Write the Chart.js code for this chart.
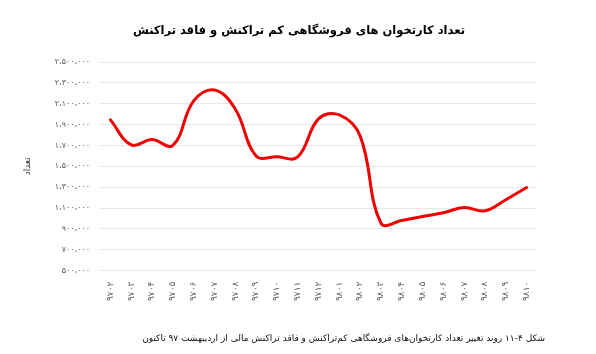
<!DOCTYPE html>
<html>
<head>
<meta charset="utf-8">
<script src="https://cdn.jsdelivr.net/npm/chart.js@4.4.0/dist/chart.umd.min.js"></script>
<style>
  html, body { margin: 0; padding: 0; background: #fff; }
  #wrap { position: relative; width: 596px; height: 354px; }
  #ttl { position: absolute; left: 140px; width: 325px; top: 22px; text-align: center;
         font: bold 11.5px 'DejaVu Sans'; color: #000; white-space: nowrap; line-height: 16px; }
  #cap { position: absolute; right: 51px; top: 331px; text-align: right;
         font: 9px 'DejaVu Sans'; color: #111; white-space: nowrap; line-height: 14px; }
</style>
</head>
<body>
<div id="wrap">
  <canvas id="mycanvas" dir="rtl" width="596" height="354"></canvas>
  <div id="ttl" dir="rtl"></div>
  <div id="cap" dir="rtl"></div>
</div>
<script>
// months (yymm), Persian calendar
var months = ['9702','9703','9704','9705','9706','9707','9708','9709','9710','9711','9712',
              '9801','9802','9803','9804','9805','9806','9807','9808','9809','9810'];
var cards = [1945000, 1706000, 1756000, 1700000, 2127000, 2232000, 2050000, 1600000, 1591000, 1590000,
             1955000, 1993000, 1792000, 955000, 980000, 1020000, 1055000, 1106000, 1074000, 1180000, 1297000];
var yMin = 500000, yMax = 2500000, yStep = 200000;

var chartTitle = 'تعداد کارتخوان های فروشگاهی کم تراکنش و فاقد تراکنش';
var yTitle = 'تعداد';
var caption = 'شکل ۴-۱۱ روند تغییر تعداد کارتخوان‌های فروشگاهی کم‌تراکنش و فاقد تراکنش مالی از اردیبهشت ۹۷ تاکنون';

document.getElementById('ttl').textContent = chartTitle;
document.getElementById('cap').textContent = caption;

function fa(s) {
	return String(s).replace(/[0-9]/g, function(d) { return '۰۱۲۳۴۵۶۷۸۹'[d]; });
}
function faNum(v) {
	var s = String(Math.round(v)).replace(/\B(?=(\d{3})+(?!\d))/g, '،');
	return fa(s);
}

var ctx = document.getElementById('mycanvas');
var lineChart = new Chart(ctx, {
	type: 'line',
	data: {
		labels: months.map(fa),
		datasets: [{
			label: yTitle,
			data: cards,
			borderColor: '#f00000',
			borderWidth: 3,
			borderCapStyle: 'round',
			pointRadius: 0,
			tension: 0.4,
			fill: false
		}]
	},
	options: {
		responsive: false,
		animation: false,
		layout: { padding: { left: 22, right: 59, top: 62, bottom: 50 } },
		plugins: {
			legend: { display: false },
			tooltip: { enabled: false }
		},
		scales: {
			x: {
				offset: true,
				grid: { display: false },
				border: { display: false },
				ticks: {
					color: '#595959',
					font: { family: 'DejaVu Sans', size: 9 },
					minRotation: 90,
					maxRotation: 90,
					autoSkip: false
				}
			},
			y: {
				min: yMin,
				max: yMax,
				afterFit: function(scale) { scale.width = 78; },
				grid: { color: '#e8e8e8', lineWidth: 1, drawTicks: false },
				border: { display: false },
				title: {
					display: true,
					text: yTitle,
					color: '#333',
					font: { family: 'DejaVu Sans', size: 9 },
					padding: 0
				},
				ticks: {
					stepSize: yStep,
					padding: 10,
					color: '#595959',
					font: { family: 'DejaVu Sans', size: 8 },
					callback: function(v) { return faNum(v); }
				}
			}
		}
	}
});
</script>
</body>
</html>
